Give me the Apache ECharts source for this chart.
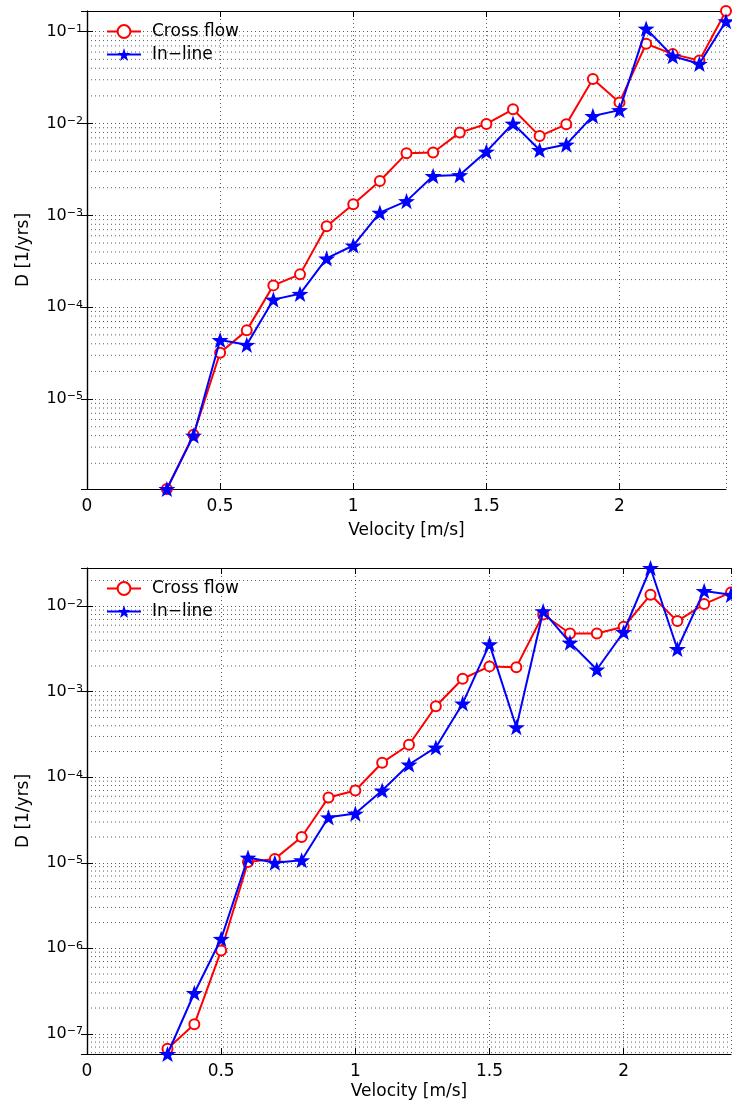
<!DOCTYPE html>
<html>
<head>
<meta charset="utf-8">
<script src="https://cdn.jsdelivr.net/npm/echarts@6/dist/echarts.min.js"></script>
<style>
  html, body { margin: 0; padding: 0; background: #fff; }
  #chart { width: 732px; height: 1108px; }
</style>
</head>
<body>
<div id="chart"></div>
<script>
// Flow velocity [m/s] shared by both panels
const velocity = [0.3, 0.4, 0.5, 0.6, 0.7, 0.8, 0.9, 1.0, 1.1, 1.2, 1.3,
                  1.4, 1.5, 1.6, 1.7, 1.8, 1.9, 2.0, 2.1, 2.2, 2.3, 2.4];

// Upper panel: damage rate D [1/yrs]
const crossTop = [1.05e-6, 4.1e-6, 3.2e-5, 5.6e-5, 1.73e-4, 2.28e-4, 7.6e-4, 1.32e-3,
                  2.37e-3, 4.74e-3, 4.83e-3, 7.97e-3, 9.9e-3, 1.43e-2, 7.3e-3, 9.8e-3,
                  3.05e-2, 1.7e-2, 7.4e-2, 5.7e-2, 4.85e-2, 0.168];
const inlineTop = [1.05e-6, 4.0e-6, 4.4e-5, 3.9e-5, 1.21e-4, 1.4e-4, 3.4e-4, 4.7e-4,
                   1.07e-3, 1.43e-3, 2.69e-3, 2.75e-3, 4.95e-3, 1.0e-2, 5.15e-3, 5.9e-3,
                   1.21e-2, 1.4e-2, 0.108, 5.4e-2, 4.47e-2, 0.13];

// Lower panel: damage rate D [1/yrs]
const crossBottom = [6.7e-8, 1.29e-7, 9.4e-7, 1.02e-5, 1.11e-5, 2.0e-5, 5.8e-5, 7.0e-5,
                     1.48e-4, 2.4e-4, 6.76e-4, 1.42e-3, 1.98e-3, 1.94e-3, 8.0e-3, 4.8e-3,
                     4.8e-3, 5.75e-3, 1.36e-2, 6.7e-3, 1.06e-2, 1.45e-2];
const inlineBottom = [5.8e-8, 3.0e-7, 1.29e-6, 1.15e-5, 1.0e-5, 1.07e-5, 3.4e-5, 3.76e-5,
                      7.0e-5, 1.41e-4, 2.23e-4, 7.3e-4, 3.6e-3, 3.85e-4, 8.75e-3, 3.75e-3,
                      1.82e-3, 5.0e-3, 2.8e-2, 3.16e-3, 1.51e-2, 1.36e-2];

// Axis settings
const xMin = 0, xMax = 2.4, xStep = 0.5;
const minorMultipliers = [2, 3, 4, 5, 6, 7, 8, 9];
const seriesNames = ['Cross flow', 'In\u2212line'];
const xTitle = 'Velocity [m/s]';
const yTitle = 'D [1/yrs]';

const FONT = 'DejaVu Sans';
const STAR = 'path://M0,-10L2.35,-3.24L9.51,-3.09L3.8,1.24L5.88,8.09L0,4L-5.88,8.09L-3.8,1.24L-9.51,-3.09L-2.35,-3.24Z';
const dotted = { color: '#000', width: 1, type: [1, 3], opacity: 0.65 };

function pairs(ys) { return velocity.map((v, i) => [v, ys[i]]); }
function extentOf(a, b) {
  const all = a.concat(b);
  return [Math.min.apply(null, all), Math.max.apply(null, all)];
}
// 2..9 x 10^k values inside the axis range, for the minor grid
function minorValues(ext) {
  const out = [];
  const lo = Math.floor(Math.log10(ext[0])), hi = Math.ceil(Math.log10(ext[1]));
  for (let k = lo; k <= hi; k++) {
    minorMultipliers.forEach(m => {
      const v = m * Math.pow(10, k);
      if (v > ext[0] && v < ext[1]) out.push([xMin, v]);
    });
  }
  return out;
}
function decadeLabel(v) {
  const e = Math.log10(v), r = Math.round(e);
  if (Math.abs(e - r) > 1e-6) return '';
  return '{b|10}{s|' + (r < 0 ? '\u2212' : '') + Math.abs(r) + '}';
}

const extTop = extentOf(crossTop, inlineTop);
const extBottom = extentOf(crossBottom, inlineBottom);

function xAxes(gi, nameGap) {
  const base = {
    gridIndex: gi, type: 'value', min: xMin, max: xMax, interval: xStep,
    axisLine: { lineStyle: { color: '#000', width: 1.2 } },
    axisTick: { inside: true, length: 6, lineStyle: { color: '#000', width: 1 } }
  };
  return [
    Object.assign({}, base, {
      position: 'bottom',
      name: xTitle, nameLocation: 'middle', nameGap: nameGap,
      nameTextStyle: { fontFamily: FONT, fontSize: 17, color: '#000' },
      axisLabel: { margin: 9, fontFamily: FONT, fontSize: 17, color: '#000', showMaxLabel: false },
      splitLine: { show: true, lineStyle: dotted }
    }),
    Object.assign({}, base, {
      position: 'top', axisLabel: { show: false }, splitLine: { show: false }
    })
  ];
}
function yAxes(gi, ext) {
  const base = {
    gridIndex: gi, type: 'log', logBase: 10, min: ext[0], max: ext[1],
    axisLine: { lineStyle: { color: '#000', width: 1.2 } },
    axisTick: { inside: true, length: 6, lineStyle: { color: '#000', width: 1 } }
  };
  return [
    Object.assign({}, base, {
      position: 'left',
      name: yTitle, nameLocation: 'middle', nameGap: 55, nameRotate: 90,
      nameTextStyle: { fontFamily: FONT, fontSize: 17, color: '#000' },
      axisLabel: {
        margin: 4, color: '#000', formatter: decadeLabel,
        rich: {
          b: { fontFamily: FONT, fontSize: 16, lineHeight: 16, padding: [4, 0, 0, 0], verticalAlign: 'bottom', color: '#000' },
          s: { fontFamily: FONT, fontSize: 11, lineHeight: 11, verticalAlign: 'top', color: '#000' }
        }
      },
      splitLine: { show: true, lineStyle: dotted }
    }),
    Object.assign({}, base, {
      position: 'right', axisLabel: { show: false }, splitLine: { show: false }
    })
  ];
}
function panelSeries(xi, yi, cross, inline, ext) {
  return [
    {
      // dotted minor grid at 2..9 x 10^k
      type: 'custom', xAxisIndex: xi, yAxisIndex: yi, silent: true, z: 1,
      data: minorValues(ext),
      encode: { x: 0, y: 1 },
      renderItem: function (params, api) {
        const a = api.coord([xMin, api.value(1)]);
        const b = api.coord([xMax, api.value(1)]);
        return {
          type: 'line',
          shape: { x1: a[0], y1: a[1], x2: b[0], y2: b[1] },
          style: { stroke: dotted.color, lineWidth: dotted.width, lineDash: dotted.type, opacity: dotted.opacity }
        };
      }
    },
    {
      name: seriesNames[0], type: 'line', xAxisIndex: xi, yAxisIndex: yi, data: pairs(cross),
      symbol: 'emptyCircle', symbolSize: 10, clip: false, z: 3,
      itemStyle: { color: '#ff0000', borderWidth: 1.6 },
      lineStyle: { color: '#ff0000', width: 2 }
    },
    {
      name: seriesNames[1], type: 'line', xAxisIndex: xi, yAxisIndex: yi, data: pairs(inline),
      symbol: STAR, symbolSize: 17, symbolKeepAspect: true, clip: false, z: 4,
      itemStyle: { color: '#0000ff' },
      lineStyle: { color: '#0000ff', width: 2 }
    }
  ];
}
function legendAt(top) {
  return {
    top: top, left: 106, orient: 'vertical', padding: 0,
    itemWidth: 34, itemHeight: 16, itemGap: 6,
    data: seriesNames, backgroundColor: 'transparent',
    textStyle: { fontFamily: FONT, fontSize: 17, lineHeight: 16, color: '#000', padding: [0, 0, 0, 6] }
  };
}

const chart = echarts.init(document.getElementById('chart'), null, { renderer: 'canvas' });
chart.setOption({
  animation: false,
  backgroundColor: '#fff',
  grid: [
    { left: 87, top: 11, width: 639, height: 478 },
    { left: 87, top: 568, width: 644, height: 486 }
  ],
  legend: [legendAt(23), legendAt(580)],
  xAxis: xAxes(0, 33).concat(xAxes(1, 29)),
  yAxis: yAxes(0, extTop).concat(yAxes(1, extBottom)),
  series: panelSeries(0, 0, crossTop, inlineTop, extTop)
    .concat(panelSeries(2, 2, crossBottom, inlineBottom, extBottom))
});
</script>
</body>
</html>
